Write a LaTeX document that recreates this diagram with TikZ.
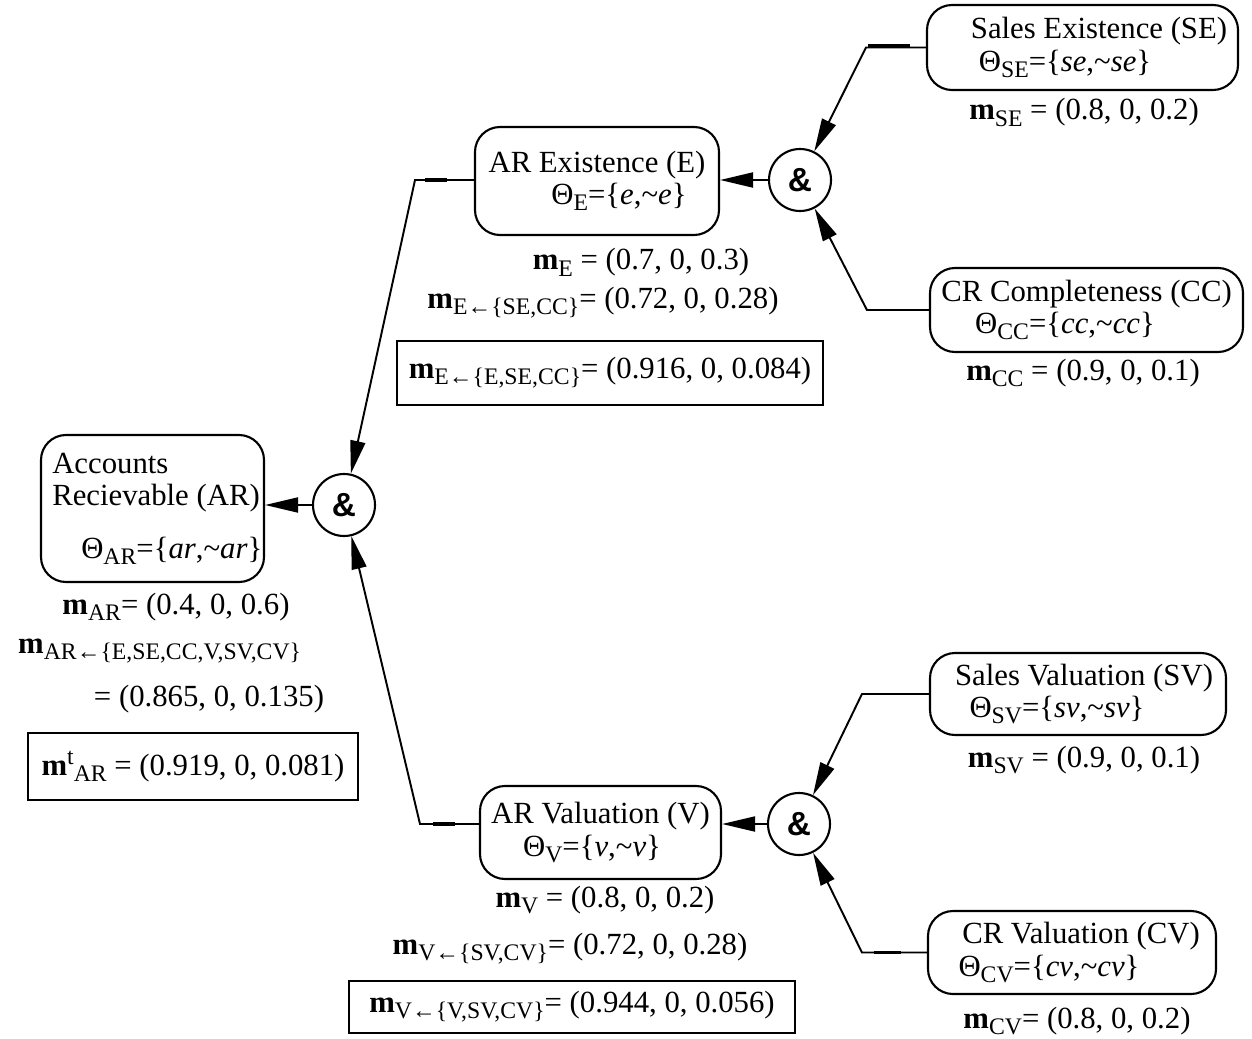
\documentclass[tikz,border=0pt]{standalone}
\usepackage{fontspec}
\setmainfont{Liberation Serif}
\setsansfont{Liberation Sans}
\usetikzlibrary{positioning,arrows.meta}

\newcommand{\sbs}[1]{\raisebox{-3.5pt}{\fontsize{13.5}{14}\selectfont #1}}
\newcommand{\sps}[1]{\raisebox{6pt}{\fontsize{13.5}{14}\selectfont #1}}
\newcommand{\mass}[1]{\textbf{m}\sbs{#1}}
\newcommand{\frameset}[3]{Θ\sbs{#1}=\{\textit{#2},\textasciitilde\textit{#3}\}}

\begin{document}
\begin{tikzpicture}[x=0.2mm,y=-0.2mm,
    font=\fontsize{17.5}{18.5}\selectfont,
    varbox/.style={draw,rounded corners=0.5cm,line width=1.2pt,align=center,inner sep=2pt},
    andnode/.style={draw,circle,line width=1.2pt,minimum size=1.24cm,inner sep=0pt,font=\sffamily\bfseries\fontsize{19}{19}\selectfont},
    belief/.style={draw,line width=1.2pt,inner sep=0pt},
    conn/.style={line width=1.1pt},
    arr/.style={conn,-{Triangle[length=0.66cm,width=0.3cm]}},
    stub/.style={line width=2.2pt}]
    \useasboundingbox (0,0) rectangle (1252,1038);
    % Accounts recievable
    \node[varbox,align=left,inner xsep=1pt,minimum width=4.46cm,minimum height=2.94cm] (AR) at (152.5,508.5) {\hspace*{0.14cm}Accounts\\\hspace*{0.14cm}Recievable (AR)\\[0.4cm]\hspace*{0.72cm}\rlap{\frameset{AR}{ar}{ar}}};
    \node[andnode] (ARand) at (344,505) {\&};
    \draw[arr] (ARand) -- (ARand -| AR.east);
    \node[anchor=base] (mAR) at (176,614) {\mass{AR}= (0.4, 0, 0.6)};
    \node[anchor=base west] (mARall) at (12,653) {\mass{AR←\{E,SE,CC,V,SV,CV\}}};
    \node[anchor=base] (mARval) at (209,706) {= (0.865, 0, 0.135)};
    \node[belief,minimum width=6.6cm,minimum height=1.34cm] (mARt) at (193,766.5) {\textbf{m}\sps{t}\sbs{AR} = (0.919, 0, 0.081)};
    % Existence
    \node[varbox,minimum width=4.88cm,minimum height=2.16cm] (E) at (597,181) {AR Existence (E)\\\hspace*{0.88cm}\frameset{E}{e}{e}};
    \node[andnode] (Eand) at (800,180) {\&};
    \node[varbox,minimum width=6.22cm,minimum height=1.7cm] (SE) at (1082.5,47.5) {\hspace*{0.66cm}Sales Existence (SE)\\\frameset{SE}{se}{se}\hspace*{0.7cm}};
    \node[varbox,minimum width=6.26cm,minimum height=1.68cm] (CC) at (1086.5,310) {CR Completeness (CC)\\\frameset{CC}{cc}{cc}\hspace*{0.86cm}};
    \draw[arr] (Eand) -- (Eand -| E.east);
    \draw[arr] (SE.west) -- ++(-60,0) coordinate (kSE) -- (Eand);
    \draw[arr] (CC.west) -- ++(-62,0) -- (Eand);
    \coordinate (kE) at (415,180);
    \draw[arr] (E.west |- Eand) -- (kE) -- (ARand);
    \draw[stub] ([shift={(10,0)}]kE) -- ++(22,0);
    \draw[stub] ([shift={(2,-2)}]kSE) -- ++(42,0);
    \node[anchor=base] (mE) at (641,270) {\mass{E} = (0.7, 0, 0.3)};
    \node[anchor=base] (mEpart) at (603,308) {\mass{E←\{SE,CC\}}= (0.72, 0, 0.28)};
    \node[belief,minimum width=8.52cm,minimum height=1.28cm] (mEall) at (610,373) {\mass{E←\{E,SE,CC\}}= (0.916, 0, 0.084)};
    \node[anchor=base] (mSE) at (1084,120) {\mass{SE} = (0.8, 0, 0.2)};
    \node[anchor=base] (mCC) at (1083,380) {\mass{CC} = (0.9, 0, 0.1)};
    % Valuation
    \node[varbox,minimum width=4.82cm,minimum height=1.86cm] (V) at (600.5,832.5) {AR Valuation (V)\\\frameset{V}{v}{v}\hspace*{0.34cm}};
    \node[andnode] (Vand) at (799,824) {\&};
    \node[varbox,minimum width=5.92cm,minimum height=1.64cm] (SV) at (1078,694) {\hspace*{0.24cm}Sales Valuation (SV)\\\frameset{SV}{sv}{sv}\hspace*{0.84cm}};
    \node[varbox,minimum width=5.76cm,minimum height=1.66cm] (CV) at (1072,952.5) {\hspace*{0.36cm}CR Valuation (CV)\\\frameset{CV}{cv}{cv}\hspace*{0.92cm}};
    \draw[arr] (Vand) -- (Vand -| V.east);
    \draw[arr] (SV.west) -- ++(-67,0) -- (Vand);
    \draw[arr] (CV.west) -- ++(-65,0) coordinate (kCV) -- (Vand);
    \coordinate (kV) at (420,824);
    \draw[arr] (V.west |- Vand) -- (kV) -- (ARand);
    \draw[stub] ([shift={(13,0)}]kV) -- ++(22,0);
    \draw[stub] ([shift={(12,0)}]kCV) -- ++(27,0);
    \node[anchor=base] (mV) at (605,907) {\mass{V} = (0.8, 0, 0.2)};
    \node[anchor=base] (mVpart) at (570,954) {\mass{V←\{SV,CV\}}= (0.72, 0, 0.28)};
    \node[belief,minimum width=8.92cm,minimum height=1.04cm] (mVall) at (572,1007) {\mass{V←\{V,SV,CV\}}= (0.944, 0, 0.056)};
    \node[anchor=base] (mSV) at (1084,767) {\mass{SV} = (0.9, 0, 0.1)};
    \node[anchor=base] (mCV) at (1077,1028) {\mass{CV}= (0.8, 0, 0.2)};
\end{tikzpicture}
\end{document}
